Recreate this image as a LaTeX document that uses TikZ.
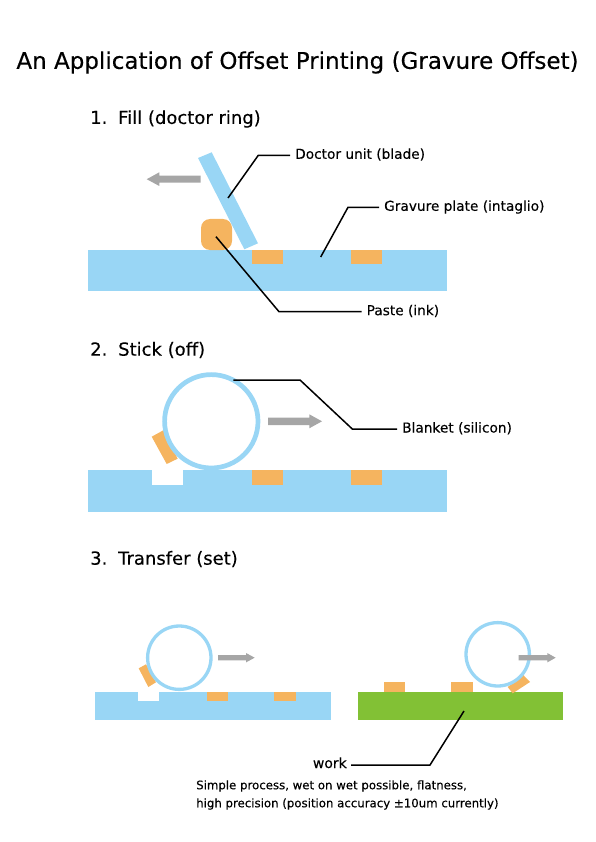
\documentclass[tikz,border=0pt]{standalone}
\usepackage{fontspec}
\setmainfont[FakeBold=0.25]{DejaVu Sans}
\definecolor{plateblue}{HTML}{99D6F5}
\definecolor{inkorange}{HTML}{F5B45F}
\definecolor{workgreen}{HTML}{82C135}
\definecolor{arrowgrey}{HTML}{A6A6A6}
\tikzset{
  plate/.style={fill=plateblue,draw=none},
  inkbox/.style={fill=inkorange,draw=none},
  workbox/.style={fill=workgreen,draw=none},
  arrowshape/.style={fill=arrowgrey,draw=none},
  leader/.style={draw=black,line width=1.5pt,line join=miter},
  callout/.style={anchor=west,inner sep=0pt,inner xsep=5pt,font=\fontsize{13.7}{16}\selectfont,text height=10pt,text depth=3pt},
  heading/.style={anchor=west,inner sep=0pt,font=\fontsize{18}{20}\selectfont},
  titletext/.style={anchor=center,inner sep=0pt,font=\fontsize{23}{28}\selectfont},
  bigring/.style={draw=plateblue,fill=white,line width=4.7pt},
  smallring/.style={draw=plateblue,fill=white,line width=3.3pt},
  note/.style={anchor=west,inner sep=0pt,font=\fontsize{11.75}{14}\selectfont},
}
\begin{document}
\begin{tikzpicture}[x=1pt,y=-1pt]
\useasboundingbox (0,0) rectangle (595,842);
\node[titletext] (title) at (297.5,62.5) {An Application of Offset Printing (Gravure Offset)};
% ---- step 1
\node[heading] (h1) at (90,119) {1.\hspace{0.6em}Fill (doctor ring)};
\fill[plate] (88,250) rectangle (447,291);
\fill[inkbox] (252,250) rectangle (283,264);
\fill[inkbox] (351,250) rectangle (382,264);
\fill[inkbox,rounded corners=9pt] (201,219) rectangle (232,250);
\fill[plate] (198,158) -- (211.7,152.3) -- (258,243.3) -- (244.3,249.3) -- cycle;
\fill[arrowshape] (200.7,175.7) -- (159.3,175.7) -- (159.3,172.3) -- (146.7,179.2) -- (159.3,186) -- (159.3,182.7) -- (200.7,182.7) -- cycle;
\coordinate (c1a) at (228,198);
\coordinate (c1b) at (258.3,155.3);
\node[callout,yshift=0pt] (doctor) at (290,155.3) {Doctor unit (blade)};
\draw[leader] (c1a) -- (c1b) -- (doctor.west);
\coordinate (c2a) at (320.7,257);
\coordinate (c2b) at (348,207.3);
\node[callout] (gravure) at (379,207.3) {Gravure plate (intaglio)};
\draw[leader] (c2a) -- (c2b) -- (gravure.west);
\coordinate (c3a) at (216,236.7);
\coordinate (c3b) at (279,311.7);
\node[callout] (paste) at (361.5,311.7) {Paste (ink)};
\draw[leader] (c3a) -- (c3b) -- (paste.west);
% ---- step 2
\node[heading] (h2) at (90,350) {2.\hspace{0.6em}Stick (off)};
\fill[plate] (88,470.3) rectangle (447,511.7);
\fill[white] (151.7,470.3) rectangle (182.5,484.5);
\fill[inkbox] (252,470.3) rectangle (283,484.8);
\fill[inkbox] (351,470.3) rectangle (382,484.8);
\fill[inkbox] (151.7,436.7) -- (163.3,430.3) -- (177.7,458.7) -- (166.7,464) -- cycle;
\node[circle,bigring,minimum size=93.4pt,inner sep=0pt] (blanket) at (211.3,421.3) {};
\fill[arrowshape] (268,417.7) -- (309.3,417.7) -- (309.3,414.3) -- (322,421.3) -- (309.3,428.3) -- (309.3,425) -- (268,425) -- cycle;
\coordinate (c4a) at (233.3,380);
\coordinate (c4b) at (300,380);
\coordinate (c4c) at (352.3,429);
\node[callout] (blanketlabel) at (397,429) {Blanket (silicon)};
\draw[leader] (c4a) -- (c4b) -- (c4c) -- (blanketlabel.west);
% ---- step 3
\node[heading] (h3) at (90,559) {3.\hspace{0.6em}Transfer (set)};
\fill[plate] (95.3,691.7) rectangle (331,719.5);
\fill[white] (138.3,691.7) rectangle (159.3,701);
\fill[inkbox] (207.3,691.7) rectangle (228,701);
\fill[inkbox] (274.3,691.7) rectangle (295.7,701);
\fill[inkbox] (138.7,668.3) -- (146,664.3) -- (156,682.3) -- (148.3,687) -- cycle;
\node[circle,smallring,minimum size=63.4pt,inner sep=0pt] (ringa) at (179.3,657.7) {};
\fill[arrowshape] (218,655) -- (246,655) -- (246,653) -- (254.7,657.7) -- (246,662.4) -- (246,660.4) -- (218,660.4) -- cycle;
\fill[workbox] (358.3,691.7) rectangle (562.7,719.5);
\fill[inkbox] (384,682) rectangle (405,691.7);
\fill[inkbox] (451.3,682) rectangle (472.7,691.7);
\fill[inkbox] (523.3,675) -- (530,682) -- (512.7,693.3) -- (507.7,687) -- cycle;
\node[circle,smallring,minimum size=63.4pt,inner sep=0pt] (ringb) at (497.7,654.3) {};
\fill[arrowshape] (518.7,655) -- (547.3,655) -- (547.3,653) -- (555.7,657.7) -- (547.3,662.4) -- (547.3,660.4) -- (518.7,660.4) -- cycle;
\coordinate (c5a) at (464,711);
\coordinate (c5b) at (430,765);
\node[anchor=east,inner sep=0pt,inner xsep=4pt,font=\fontsize{14}{16}\selectfont,text height=10pt,text depth=3pt] (worklabel) at (351,764.5) {work};
\draw[leader] (c5a) -- (c5b) -- (worklabel.east |- c5b);
\node[note] (n1) at (196,786) {Simple process, wet on wet possible, flatness,};
\node[note] (n2) at (196,804) {high precision (position accuracy ±10um currently)};
\end{tikzpicture}
\end{document}
